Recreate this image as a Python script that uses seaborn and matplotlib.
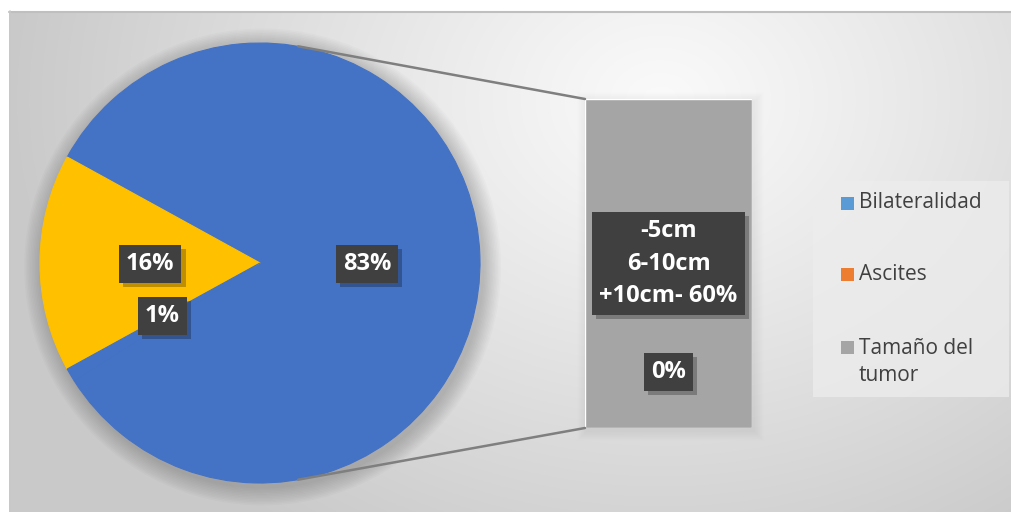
import numpy as np
import matplotlib
matplotlib.use("Agg")
import matplotlib.pyplot as plt
import seaborn as sns
import pandas as pd
from matplotlib.patches import Rectangle, Circle, ConnectionPatch
import matplotlib.patheffects as pe

# ---- data ----
pie_values = [83, 16, 1]
pie_labels = ["83%", "16%", "1%"]
pie_colors = ["#4472C4", "#FFC000", "#4472C4"]
bar_category = ["Otro"]
bar_values = [60]
bar_labels = ["-5cm\n6-10cm\n+10cm- 60%", "0%"]
legend_labels = ["Bilateralidad", "Ascites", "Tamaño del\ntumor"]
legend_colors = ["#5B9BD5", "#ED7D31", "#A5A5A5"]

sns.set_theme(style="white")
plt.rcParams['font.family'] = ['Open Sans', 'DejaVu Sans']

W, H = 1011, 512
fig = plt.figure(figsize=(W / 100, H / 100), dpi=100)


def fx(px):
    return px / W


def fy(py):
    return 1 - py / H


# ---- background ----
bg = fig.add_axes([0, 0, 1, 1])
bg.set_xlim(0, W)
bg.set_ylim(H, 0)
bg.axis('off')
yy, xx = np.mgrid[0:H, 0:W]
d = np.sqrt(((xx - 660) / 1.0) ** 2 + ((yy - 100) / 0.8) ** 2)
val = 0.98 - 0.19 * np.clip(d / 650, 0, 1) ** 1.1
img = np.dstack([val] * 3)
img[:11, :, :] = 1
img[:, :9, :] = 1
bg.imshow(img, extent=(0, W, H, 0), aspect='auto', zorder=0, interpolation='bilinear')
bg.plot([9, W], [11.5, 11.5], color='#BFBFBF', lw=1.5, zorder=1)
bg.plot([9.5, 9.5], [11, H], color='#C8C8C8', lw=1.2, zorder=1)

# soft bar shadow
for i in range(14):
    g = (14 - i) * 0.7
    bg.add_patch(Rectangle((585 - g + 2, 99 - g + 3), 167 + 2 * g, 329 + 2 * g,
                           fc='black', ec='none', alpha=0.005, zorder=1))

# legend box
bg.add_patch(Rectangle((813, 181), 196, 216, fc='#EDEDED', ec='none', alpha=0.75, zorder=1))
leg_y = [203, 275, 362]
sq_y = [197, 268, 341]
for lab, col, ty, sy in zip(legend_labels, legend_colors, leg_y, sq_y):
    bg.add_patch(Rectangle((841, sy), 13, 13, fc=col, ec='none', zorder=2))
    bg.text(859, ty, lab, ha='left', va='center', fontsize=15, color='#404040',
            linespacing=1.4, zorder=3)

# ---- pie ----
ax_pie = fig.add_axes([fx(40), fy(483), 440 / W, 440 / H])
for i in range(12):
    r = 1.0 + 0.007 * (12 - i)
    ax_pie.add_patch(Circle((0.012, -0.018), r, fc='black', ec='none', alpha=0.016,
                            clip_on=False, zorder=0))
wedges, _ = ax_pie.pie(pie_values, colors=pie_colors, startangle=-147.6, counterclock=True,
                       wedgeprops=dict(linewidth=0.8))
for w in wedges:
    w.set_edgecolor(w.get_facecolor())
ax_pie.set_xlim(-1, 1)
ax_pie.set_ylim(-1, 1)
ax_pie.axis('off')

# ---- bar ----
ax_bar = fig.add_axes([fx(585), fy(428), 167 / W, 329 / H])
df = pd.DataFrame({"cat": bar_category, "val": bar_values})
sns.barplot(data=df, x="cat", y="val", color="#A5A5A5", saturation=1, width=1, ax=ax_bar)
ax_bar.set_xlim(-0.5, 0.5)
ax_bar.set_ylim(0, bar_values[0])
ax_bar.axis('off')

# connectors
ang = np.deg2rad(80)
for sgn, yb in [(1, 1), (-1, 0)]:
    con = ConnectionPatch(xyA=(np.cos(ang), sgn * np.sin(ang)), coordsA=ax_pie.transData,
                          xyB=(0, yb), coordsB=ax_bar.transAxes,
                          color='#7F7F7F', lw=1.8, zorder=5)
    fig.add_artist(con)


def dlabel(ax, x, y, s, transform, fs=17, ls=1.45, pad=0.3):
    t = ax.text(x, y, s, transform=transform, ha='center', va='center', fontsize=fs,
                fontweight='bold', color='white', linespacing=ls,
                bbox=dict(boxstyle='square,pad=%g' % pad, fc='#404040', ec='none'),
                zorder=6, clip_on=False)
    t.get_bbox_patch().set_path_effects([
        pe.SimplePatchShadow(offset=(3, -3), shadow_rgbFace='black', alpha=0.25),
        pe.Normal()])
    return t


pie_pos = [(0.486, -0.005), (-0.5, -0.005), (-0.445, -0.24)]
for lab, (px, py) in zip(pie_labels, pie_pos):
    dlabel(ax_pie, px, py, lab, ax_pie.transData)

bar_pos = [(0.5, 0.5), (0.5, 0.17)]
for lab, (bx, by) in zip(bar_labels, bar_pos):
    dlabel(ax_bar, bx, by, lab, ax_bar.transAxes)

fig.savefig("out.png", dpi=100)
